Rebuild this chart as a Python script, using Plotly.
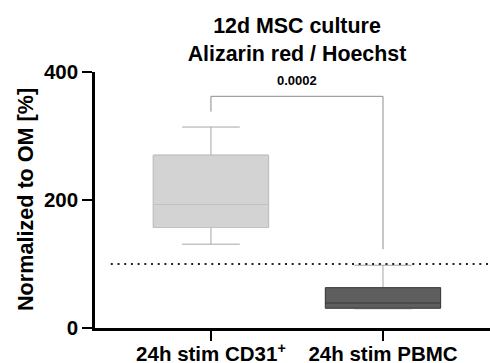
import plotly.graph_objects as go

# ---- data ----
categories = ["24h stim CD31<sup>+</sup>", "24h stim PBMC"]
lower_whisker = [131, 30]
q1_values = [157, 31]
median_values = [193, 39]
q3_values = [270, 63]
upper_whisker = [314, 98]
reference_level = 100
p_value_label = "0.0002"
bracket_top = 362
bracket_left_bottom = 338
bracket_right_bottom = 123
p_label_y = 386
y_ticks = [0, 200, 400]

fill_colors = ["#d3d3d3", "#5e5e5e"]
outline_colors = ["#c2c2c2", "#3a3a3a"]
whisker_colors = ["#a6a6a6", "#a6a6a6"]

FONT = "Arial, Liberation Sans, sans-serif"

fig = go.Figure()
for i, cat in enumerate(categories):
    # whiskers (light grey)
    fig.add_trace(go.Box(
        x=[cat], q1=[q1_values[i]], median=[median_values[i]], q3=[q3_values[i]],
        lowerfence=[lower_whisker[i]], upperfence=[upper_whisker[i]],
        width=0.67, whiskerwidth=0.5, boxpoints=False,
        fillcolor=fill_colors[i], line=dict(color=whisker_colors[i], width=1),
        showlegend=False, hoverinfo="skip"))
    # box body with its own outline / median colour
    fig.add_trace(go.Box(
        x=[cat], q1=[q1_values[i]], median=[median_values[i]], q3=[q3_values[i]],
        lowerfence=[q1_values[i]], upperfence=[q3_values[i]],
        width=0.67, whiskerwidth=0.0, boxpoints=False,
        fillcolor=fill_colors[i], line=dict(color=outline_colors[i], width=1),
        showlegend=False, hoverinfo="skip"))

# dotted reference line
fig.add_shape(type="line", xref="paper", yref="y", x0=0.04, x1=1,
              y0=reference_level, y1=reference_level,
              line=dict(color="#222222", width=2, dash="2px,4.7px"))

# significance bracket
bracket_color = "#8c8c8c"
fig.add_shape(type="line", xref="x", yref="y", x0=0, x1=0,
              y0=bracket_left_bottom, y1=bracket_top,
              line=dict(color=bracket_color, width=1))
fig.add_shape(type="line", xref="x", yref="y", x0=0, x1=1,
              y0=bracket_top, y1=bracket_top,
              line=dict(color=bracket_color, width=1))
fig.add_shape(type="line", xref="x", yref="y", x0=1, x1=1,
              y0=bracket_right_bottom, y1=bracket_top,
              line=dict(color=bracket_color, width=1))
fig.add_annotation(x=0.5, y=p_label_y, xref="x", yref="y", text=p_value_label,
                   showarrow=False, font=dict(family=FONT, size=13, color="black", weight="bold"))

# y axis title
fig.add_annotation(x=(25 - 95) / 395, y=0.5, xref="paper", yref="paper",
                   text="Normalized to OM [%]", textangle=-90, showarrow=False,
                   xanchor="center", yanchor="middle",
                   font=dict(family=FONT, size=21.6, color="black", weight="bold"))

fig.update_layout(
    width=490, height=363,
    margin=dict(l=95, r=0, t=72, b=35),
    paper_bgcolor="white", plot_bgcolor="white",
    boxmode="overlay",
    title=dict(text="12d MSC culture<br>Alizarin red / Hoechst",
               x=297 / 490, xanchor="center", xref="container",
               y=1 - 33 / 363, yanchor="top", yref="container",
               font=dict(family=FONT, size=21.4, color="black", weight="bold")),
    xaxis=dict(type="category", range=[-0.674, 1.622], automargin=False,
               showline=True, linecolor="black", linewidth=2.5,
               ticks="outside", ticklen=10, tickwidth=2, tickcolor="black",
               ticklabelstandoff=-4,
               showgrid=False, zeroline=False,
               tickfont=dict(family=FONT, size=20.5, color="black", weight="bold")),
    yaxis=dict(range=[0, 400], tickvals=y_ticks, automargin=False,
               showline=True, linecolor="black", linewidth=2.5,
               ticks="outside", ticklen=10, tickwidth=2, tickcolor="black",
               showgrid=False, zeroline=False,
               tickfont=dict(family=FONT, size=20.5, color="black", weight="bold")),
)

fig.write_html("out.html", config={"displayModeBar": False},
               post_script="document.body.style.margin='0px';")
